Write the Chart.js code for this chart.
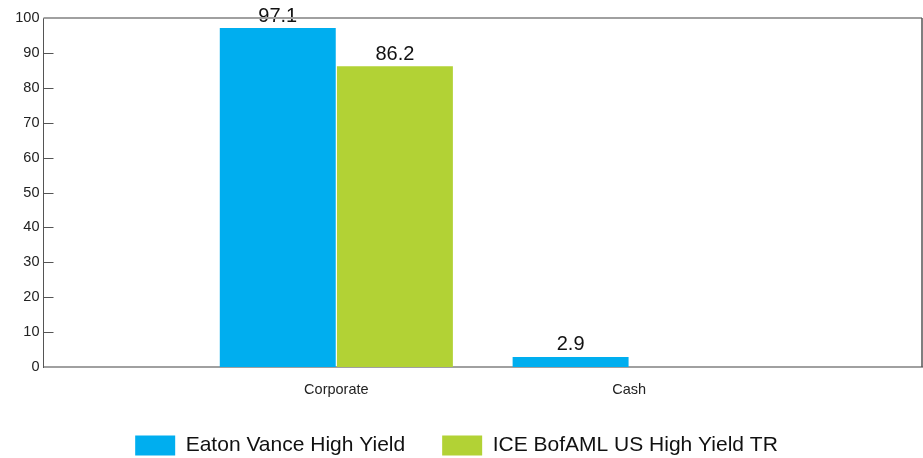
<!DOCTYPE html>
<html>
<head>
<meta charset="utf-8">
<script src="https://cdn.jsdelivr.net/npm/chart.js@4"></script>
<style>
  html, body { margin: 0; padding: 0; background: #fff; }
  #wrap { width: 923px; height: 458px; }
</style>
</head>
<body>
<div id="wrap"><canvas id="myChart"></canvas></div>
<script>
// data
const categories = ['Corporate', 'Cash'];
const eatonValues = [97.1, 2.9];
const iceValues = [86.2, null];
const seriesNames = ['Eaton Vance High Yield', 'ICE BofAML US High Yield TR'];
const yTicks = [0, 10, 20, 30, 40, 50, 60, 70, 80, 90, 100];

// categories sit at 1/3 and 2/3 of the axis, so pad with blank slots at the ends
const labels = [''].concat(categories, ['']);
const pad = arr => [null].concat(arr, [null]);

// value labels above each bar
const valueLabels = {
  id: 'valueLabels',
  afterDatasetsDraw(chart) {
    const ctx = chart.ctx;
    ctx.save();
    ctx.font = '20px "Liberation Sans", Arial, sans-serif';
    ctx.fillStyle = '#111';
    ctx.textAlign = 'center';
    ctx.textBaseline = 'bottom';
    chart.data.datasets.forEach((ds, i) => {
      const meta = chart.getDatasetMeta(i);
      meta.data.forEach((bar, j) => {
        const v = ds.data[j];
        if (v == null) return;
        ctx.fillText(v.toFixed(1), bar.x, bar.y - 2);
      });
    });
    ctx.restore();
  }
};

// top/right frame and inward tick marks on the y axis
const frame = {
  id: 'frame',
  afterDraw(chart) {
    const a = chart.chartArea;
    const y = chart.scales.y;
    const ctx = chart.ctx;
    ctx.save();
    ctx.lineWidth = 2;
    ctx.strokeStyle = '#a0a0a0';
    ctx.beginPath();
    ctx.moveTo(a.left, a.top);
    ctx.lineTo(a.right, a.top);
    ctx.stroke();
    ctx.lineWidth = 1.5;
    ctx.strokeStyle = '#555';
    ctx.beginPath();
    ctx.moveTo(a.right, a.top);
    ctx.lineTo(a.right, a.bottom);
    ctx.stroke();
    ctx.lineWidth = 1;
    ctx.strokeStyle = '#555';
    yTicks.forEach(t => {
      if (t === 0 || t === 100) return;
      const py = Math.round(y.getPixelForValue(t)) + 0.5;
      ctx.beginPath();
      ctx.moveTo(a.left, py);
      ctx.lineTo(a.left + 10, py);
      ctx.stroke();
    });
    ctx.restore();
  }
};

Chart.defaults.font.family = '"Liberation Sans", Arial, sans-serif';
Chart.defaults.color = '#222';

const ctx = document.getElementById('myChart').getContext('2d');
new Chart(ctx, {
  type: 'bar',
  data: {
    labels: labels,
    datasets: [
      {
        label: seriesNames[0],
        data: pad(eatonValues),
        backgroundColor: '#00aeef',
        categoryPercentage: 0.8,
        barPercentage: 0.99
      },
      {
        label: seriesNames[1],
        data: pad(iceValues),
        backgroundColor: '#b2d235',
        categoryPercentage: 0.8,
        barPercentage: 0.99
      }
    ]
  },
  options: {
    responsive: true,
    maintainAspectRatio: false,
    animation: false,
    layout: { padding: { top: 18, left: -9, right: 1, bottom: 0 } },
    plugins: {
      tooltip: { enabled: false },
      legend: {
        position: 'bottom',
        maxHeight: 60,
        labels: {
          boxWidth: 40,
          boxHeight: 20,
          padding: 37,
          color: '#111',
          font: { size: 21 }
        }
      }
    },
    scales: {
      x: {
        offset: false,
        afterFit: s => { s.height = 31; s.paddingLeft = 0; s.paddingRight = 0; },
        grid: { display: false, drawTicks: false },
        border: { display: true, color: '#a0a0a0', width: 2 },
        ticks: { padding: 14, color: '#222', font: { size: 14.5 }, maxRotation: 0 }
      },
      y: {
        min: 0,
        max: 100,
        afterFit: s => { s.width = 52.5; },
        afterBuildTicks: axis => { axis.ticks = yTicks.map(v => ({ value: v })); },
        grid: { display: false, drawTicks: false },
        border: { display: true, color: '#555', width: 1 },
        ticks: { padding: 4, color: '#222', font: { size: 14.5 } }
      }
    }
  },
  plugins: [valueLabels, frame]
});
</script>
</body>
</html>
